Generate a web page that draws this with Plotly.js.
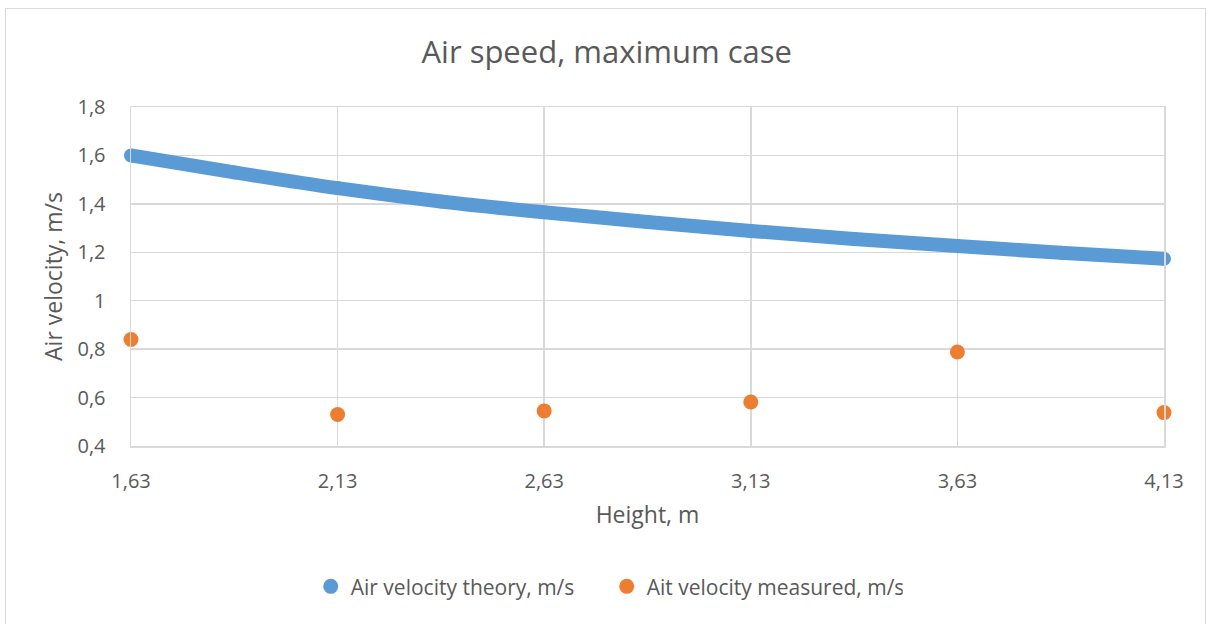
<!DOCTYPE html>
<html><head><meta charset="utf-8">
<script src="https://cdn.plot.ly/plotly-3.0.1.min.js"></script>
<style>
html,body{margin:0;padding:0;background:#fff;}
#chart{width:1211px;height:624px;}
#frame{position:absolute;left:5px;top:8px;width:1199px;height:640px;border:1px solid #d9d9d9;pointer-events:none;}
</style></head>
<body>
<div id="chart"></div>
<div id="frame"></div>
<script>
const heightTheory = [1.63, 1.88, 2.13, 2.38, 2.63, 2.88, 3.13, 3.38, 3.63, 3.88, 4.13];
const velocityTheory = [1.60, 1.53, 1.465, 1.41, 1.365, 1.325, 1.288, 1.255, 1.226, 1.198, 1.173];
const heightMeasured = [1.63, 2.13, 2.63, 3.13, 3.63, 4.13];
const velocityMeasured = [0.84, 0.53, 0.545, 0.582, 0.788, 0.538];
const seriesNames = ["Air velocity theory, m/s", "Ait velocity measured, m/s"];
const colors = ["#5b9bd5", "#ed7d31"];
const xTicks = [1.63, 2.13, 2.63, 3.13, 3.63, 4.13];

const font = "Open Sans, sans-serif";
const traces = [
  {x: heightTheory, y: velocityTheory, mode: "lines+markers", type: "scatter",
   line: {color: colors[0], width: 14, shape: "spline"},
   marker: {color: colors[0], size: 14}, showlegend: false, cliponaxis: false, hoverinfo: "skip"},
  {x: [null], y: [null], mode: "markers", type: "scatter", name: seriesNames[0],
   marker: {color: colors[0], size: 15}},
  {x: heightMeasured, y: velocityMeasured, mode: "markers", type: "scatter", name: seriesNames[1],
   marker: {color: colors[1], size: 15}, cliponaxis: false}
];
const layout = {
  width: 1211, height: 624,
  separators: ", ",
  paper_bgcolor: "#fff", plot_bgcolor: "#fff",
  margin: {l: 131, r: 47, t: 107, b: 178},
  font: {family: font, color: "#595959", size: 20},
  title: {text: "Air speed, maximum case", x: 0.501, xanchor: "center", y: 0.917, yanchor: "middle",
          font: {family: font, size: 31, color: "#595959"}},
  xaxis: {range: [1.63, 4.13], tickmode: "array", tickvals: xTicks, tickformat: ".2f",
          showgrid: true, gridcolor: "#d9d9d9", gridwidth: 1.5, zeroline: false,
          showline: true, linecolor: "#d9d9d9", linewidth: 1.5, mirror: true,
          ticks: "", ticklabelstandoff: 16, tickfont: {size: 20, color: "#595959"},
          title: {text: "Height, m", font: {size: 23, color: "#595959"}, standoff: 14}},
  yaxis: {range: [0.4, 1.8], dtick: 0.2, tick0: 0.4,
          showgrid: true, gridcolor: "#d9d9d9", gridwidth: 1.5, zeroline: false,
          showline: true, linecolor: "#d9d9d9", linewidth: 1.5, mirror: true,
          ticks: "", ticklabelstandoff: 20, tickfont: {size: 20, color: "#595959"},
          title: {text: "Air velocity, m/s", font: {size: 23, color: "#595959"}, standoff: 8}},
  legend: {orientation: "h", x: 0.174, xanchor: "left", y: -0.415, yanchor: "middle",
           font: {size: 21, color: "#595959"}, itemwidth: 30, tracegroupgap: 0,
           entrywidth: 251, entrywidthmode: "pixels"},
  showlegend: true
};
Plotly.newPlot("chart", traces, layout, {displayModeBar: false, staticPlot: true});
</script>
</body></html>
